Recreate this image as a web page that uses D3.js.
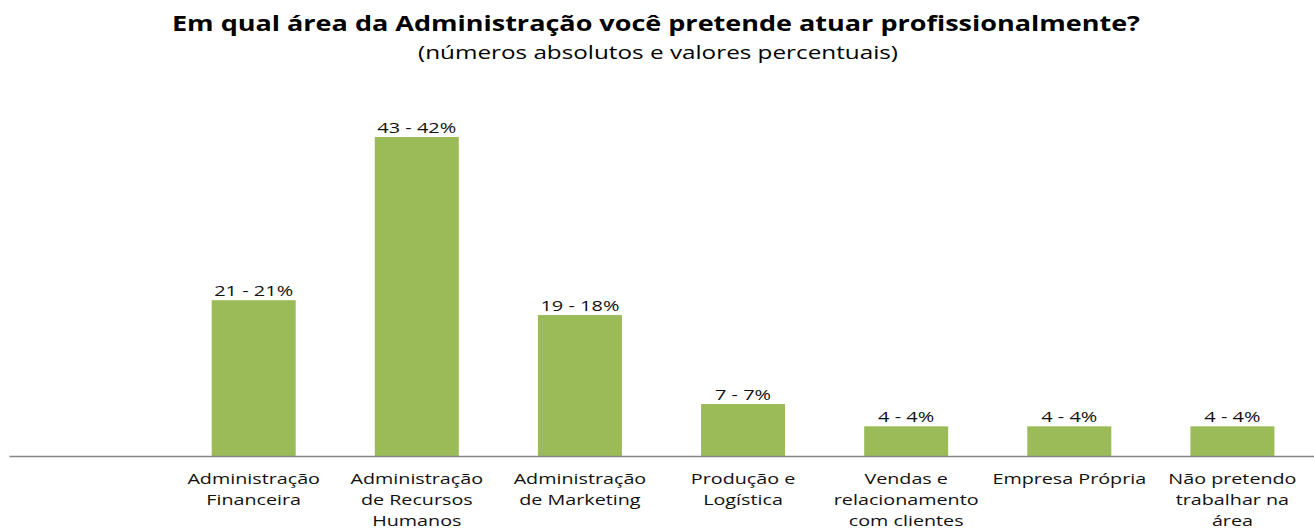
<!DOCTYPE html>
<html>
<head>
<meta charset="utf-8">
<script src="https://cdn.jsdelivr.net/npm/d3@7/dist/d3.min.js"></script>
<style>
  html, body { margin: 0; padding: 0; background: #fff; }
  svg { display: block; }
</style>
</head>
<body>
<svg id="chart" width="1314" height="530"></svg>
<script>
const titleText = "Em qual área da Administração você pretende atuar profissionalmente?";
const subtitleText = "(números absolutos e valores percentuais)";
const categories = [
  "",
  "Administração Financeira",
  "Administração de Recursos Humanos",
  "Administração de Marketing",
  "Produção e Logística",
  "Vendas e relacionamento com clientes",
  "Empresa Própria",
  "Não pretendo trabalhar na área"
];
const categoryLines = [
  [],
  ["Administração", "Financeira"],
  ["Administração", "de Recursos", "Humanos"],
  ["Administração", "de Marketing"],
  ["Produção e", "Logística"],
  ["Vendas e", "relacionamento", "com clientes"],
  ["Empresa Própria"],
  ["Não pretendo", "trabalhar na", "área"]
];
const counts = [null, 21, 43, 19, 7, 4, 4, 4];
const percents = [null, 21, 42, 18, 7, 4, 4, 4];

const svg = d3.select("#chart");
const baseY = 456;

const x = d3.scaleBand().domain(categories).range([9, 1314]).paddingInner(0.485).paddingOuter(0.2425);
const y = d3.scaleLinear().domain([0, 43]).range([baseY, 137]);

function stretch(sel, factor) {
  sel.each(function() {
    const len = this.getComputedTextLength();
    d3.select(this).attr("textLength", len * factor).attr("lengthAdjust", "spacingAndGlyphs");
  });
}

// title
svg.append("text")
  .attr("x", 656).attr("y", 31)
  .attr("text-anchor", "middle")
  .attr("font-family", "Open Sans, sans-serif")
  .attr("font-weight", "bold")
  .attr("font-size", 22)
  .attr("textLength", 968).attr("lengthAdjust", "spacingAndGlyphs")
  .attr("fill", "#000")
  .text(titleText);

svg.append("text")
  .attr("x", 658).attr("y", 59)
  .attr("text-anchor", "middle")
  .attr("font-family", "Open Sans, sans-serif")
  .attr("font-size", 18)
  .attr("textLength", 480).attr("lengthAdjust", "spacingAndGlyphs")
  .attr("fill", "#000")
  .text(subtitleText);

const data = categories.map((c, i) => ({c, n: counts[i], p: percents[i], lines: categoryLines[i]}));

// bars
svg.append("g").selectAll("rect")
  .data(data.filter(d => d.n != null))
  .join("rect")
  .attr("x", d => x(d.c))
  .attr("width", x.bandwidth())
  .attr("y", d => y(d.n))
  .attr("height", d => baseY - y(d.n))
  .attr("fill", "#9BBB59");

// value labels
const vl = svg.append("g").selectAll("text")
  .data(data.filter(d => d.n != null))
  .join("text")
  .attr("x", d => x(d.c) + x.bandwidth() / 2)
  .attr("y", d => y(d.n) - 4)
  .attr("text-anchor", "middle")
  .attr("font-family", "Open Sans, sans-serif")
  .attr("font-size", 15)
  .attr("fill", "#111")
  .text(d => `${d.n} - ${d.p}%`);
stretch(vl, 1.33);

// axis
const axis = d3.axisBottom(x).tickSize(0).tickFormat("");
const ag = svg.append("g").attr("transform", `translate(0,${baseY})`).call(axis);
ag.select(".domain").attr("stroke", "#868686").attr("stroke-width", 1.3);

// category labels
const lab = svg.append("g").selectAll("text")
  .data(data)
  .join("text")
  .attr("text-anchor", "middle")
  .attr("font-family", "Open Sans, sans-serif")
  .attr("font-size", 14.5)
  .attr("fill", "#111");
lab.each(function(d) {
  const t = d3.select(this);
  d.lines.forEach((ln, k) => {
    t.append("tspan")
      .attr("x", x(d.c) + x.bandwidth() / 2)
      .attr("y", 484 + k * 21)
      .text(ln);
  });
});
lab.selectAll("tspan").each(function() {
  const len = this.getComputedTextLength();
  d3.select(this).attr("textLength", len * 1.36).attr("lengthAdjust", "spacingAndGlyphs");
});
</script>
</body>
</html>
